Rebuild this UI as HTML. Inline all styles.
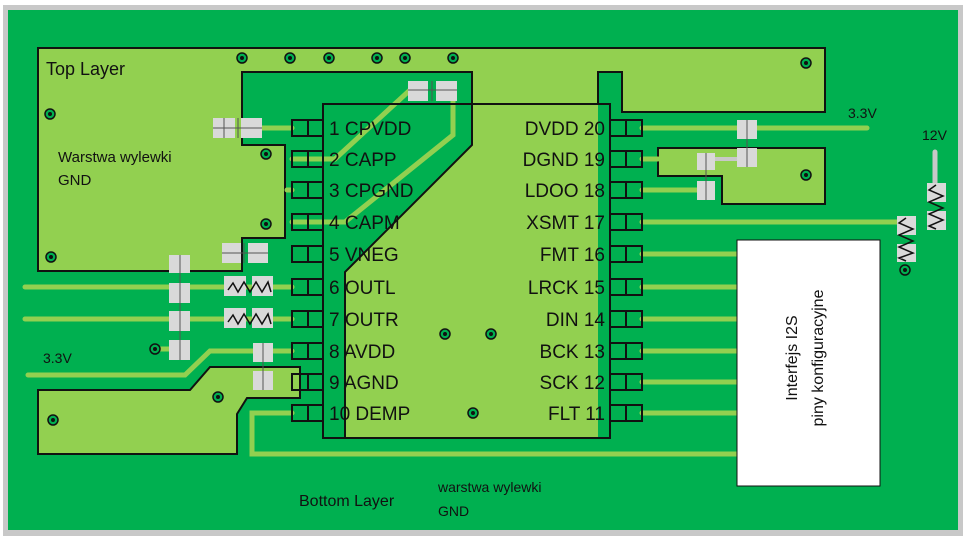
<!DOCTYPE html>
<html><head><meta charset="utf-8"><style>
html,body{margin:0;padding:0;background:#fff;}
svg{display:block;}
text{font-family:"Liberation Sans","DejaVu Sans",sans-serif;fill:#111;}
</style></head><body>
<svg width="970" height="544" viewBox="0 0 970 544" xmlns="http://www.w3.org/2000/svg">
<rect x="3" y="5" width="960" height="531" fill="#c8c8c8"/>
<rect x="8" y="10" width="950" height="520" fill="#00b050"/>
<g fill="#92d050" stroke="#111" stroke-width="2">
<path d="M38,48 L825,48 L825,112 L622,112 L622,72 L242,72 L242,145 L285,145 L285,238 L242,238 L242,271 L38,271 Z"/>
<path d="M472,72 L598,72 L598,438 L345,438 L345,272 L472,145 Z" stroke="none"/>
<path d="M658,148 L825,148 L825,204 L722,204 L722,176 L658,176 Z"/>
<path d="M38,390 L190,390 L210,367 L300,367 L300,398 L247,398 L237,414 L237,454 L38,454 Z"/>
</g>
<rect x="473" y="70" width="124" height="30" fill="#92d050"/>
<path d="M472,72 L472,145 L345,272 L345,438" fill="none" stroke="#111" stroke-width="2"/>
<path d="M598,104 L598,72 L622,72" fill="none" stroke="#111" stroke-width="2"/>
<!-- traces -->
<g stroke="#92d050" stroke-width="5" fill="none" stroke-linecap="round">
<path d="M262,128 L292,128"/>
<path d="M292,159 L335,159 L410,90 L420,90"/>
<path d="M292,222 L345,222 L453,135 L453,92"/>
<path d="M287,190 L292,190"/>
<path d="M25,287 L292,287"/>
<path d="M25,319 L292,319"/>
<path d="M28,375 L185,375 L210,351 L292,351"/>
<path d="M160,349 L175,349"/>
<path d="M292,413 L252,413 L252,454 L737,454"/>
<path d="M642,128 L867,128"/>
<path d="M642,159 L658,159"/>
<path d="M642,190 L700,190"/>
<path d="M642,222 L905,222"/>
<path d="M642,254 L737,254 M642,287 L737,287 M642,319 L737,319 M642,351 L737,351 M642,382 L737,382 M642,413 L737,413"/>
</g>
<path d="M935,152 L935,190" stroke="#c8c8c8" stroke-width="5" stroke-linecap="round"/>
<path d="M715,159 L740,159" stroke="#c8c8c8" stroke-width="4"/>
<!-- chip -->
<rect x="323" y="104" width="287" height="334" fill="none" stroke="#111" stroke-width="2"/>
<g fill="none" stroke="#111" stroke-width="2">
<g id="lp">
<rect x="292" y="120" width="31" height="16"/><line x1="308" y1="120" x2="308" y2="136"/>
</g>
<use href="#lp" y="31"/><use href="#lp" y="62"/><use href="#lp" y="94"/><use href="#lp" y="126"/>
<use href="#lp" y="159"/><use href="#lp" y="191"/><use href="#lp" y="223"/><use href="#lp" y="254"/><use href="#lp" y="285"/>
<g id="rp"><rect x="610" y="120" width="32" height="16"/><line x1="626" y1="120" x2="626" y2="136"/></g>
<use href="#rp" y="31"/><use href="#rp" y="62"/><use href="#rp" y="94"/><use href="#rp" y="126"/>
<use href="#rp" y="159"/><use href="#rp" y="191"/><use href="#rp" y="223"/><use href="#rp" y="254"/><use href="#rp" y="285"/>
</g>
<g font-size="19">
<text x="329" y="135">1 CPVDD</text><text x="329" y="166">2 CAPP</text><text x="329" y="197">3 CPGND</text>
<text x="329" y="229">4 CAPM</text><text x="329" y="261">5 VNEG</text><text x="329" y="294">6 OUTL</text>
<text x="329" y="326">7 OUTR</text><text x="329" y="358">8 AVDD</text><text x="329" y="389">9 AGND</text>
<text x="329" y="420">10 DEMP</text>
</g>
<g font-size="19" text-anchor="end">
<text x="605" y="135">DVDD 20</text><text x="605" y="166">DGND 19</text><text x="605" y="197">LDOO 18</text>
<text x="605" y="229">XSMT 17</text><text x="605" y="261">FMT 16</text><text x="605" y="294">LRCK 15</text>
<text x="605" y="326">DIN 14</text><text x="605" y="358">BCK 13</text><text x="605" y="389">SCK 12</text>
<text x="605" y="420">FLT 11</text>
</g>
<!-- pads -->
<g fill="#d9d9d9">
<rect x="213" y="118" width="22" height="20"/><rect x="241" y="118" width="21" height="20"/>
<rect x="408" y="81" width="20" height="20"/><rect x="436" y="81" width="21" height="20"/>
<rect x="222" y="243" width="19" height="20"/><rect x="248" y="243" width="20" height="20"/>
<rect x="169" y="255" width="21" height="18"/><rect x="169" y="283" width="21" height="20"/>
<rect x="169" y="311" width="21" height="20"/><rect x="169" y="340" width="21" height="20"/>
<rect x="224" y="276" width="22" height="20"/><rect x="252" y="276" width="21" height="20"/>
<rect x="224" y="308" width="22" height="20"/><rect x="252" y="308" width="21" height="20"/>
<rect x="253" y="343" width="20" height="19"/><rect x="253" y="371" width="20" height="19"/>
<rect x="737" y="120" width="20" height="19"/><rect x="737" y="148" width="20" height="19"/>
<rect x="697" y="153" width="18" height="17"/><rect x="697" y="181" width="18" height="19"/>
<rect x="927" y="183" width="19" height="19"/><rect x="927" y="211" width="19" height="19"/>
<rect x="897" y="216" width="19" height="19"/><rect x="897" y="244" width="19" height="18"/>
</g>
<g stroke="#555" stroke-width="1">
<line x1="224" y1="118" x2="224" y2="138"/><line x1="238" y1="118" x2="238" y2="138"/><line x1="213" y1="128" x2="262" y2="128"/>
<line x1="432" y1="81" x2="432" y2="101"/><line x1="408" y1="90" x2="457" y2="90"/>
<line x1="222" y1="253" x2="268" y2="253"/><line x1="244" y1="243" x2="244" y2="263"/>
<line x1="180" y1="255" x2="180" y2="360"/>
<line x1="263" y1="343" x2="263" y2="390"/>
<line x1="747" y1="120" x2="747" y2="167"/><line x1="706" y1="153" x2="706" y2="200"/>
</g>
<g fill="none" stroke="#111" stroke-width="1.5">
<path d="M228,290 L233,283 L238,292 L244,282 L250,292 L256,282 L262,292 L268,282 L271,292"/>
<path d="M228,322 L233,315 L238,324 L244,314 L250,324 L256,314 L262,324 L268,314 L271,324"/>
<path d="M936,185 L929,190 L943,196 L929,202 L943,208 L929,214 L943,220 L929,226 L936,229"/>
<path d="M906,218 L899,223 L913,229 L899,235 L913,241 L899,247 L913,253 L899,258 L906,261"/>
</g>
<!-- vias -->
<g fill="#00b050" stroke="#111" stroke-width="1.5">
<circle cx="242" cy="58" r="5"/><circle cx="290" cy="58" r="5"/><circle cx="329" cy="58" r="5"/>
<circle cx="377" cy="58" r="5"/><circle cx="405" cy="58" r="5"/><circle cx="453" cy="58" r="5"/>
<circle cx="806" cy="63" r="5"/><circle cx="50" cy="114" r="5"/><circle cx="266" cy="154" r="5"/>
<circle cx="266" cy="224" r="5"/><circle cx="51" cy="257" r="5"/><circle cx="806" cy="175" r="5"/>
<circle cx="155" cy="349" r="5"/><circle cx="218" cy="397" r="5"/><circle cx="53" cy="420" r="5"/>
<circle cx="445" cy="334" r="5"/><circle cx="491" cy="334" r="5"/><circle cx="473" cy="413" r="5"/>
<circle cx="905" cy="270" r="5"/>
</g>
<g fill="#111">
<circle cx="242" cy="58" r="2"/><circle cx="290" cy="58" r="2"/><circle cx="329" cy="58" r="2"/>
<circle cx="377" cy="58" r="2"/><circle cx="405" cy="58" r="2"/><circle cx="453" cy="58" r="2"/>
<circle cx="806" cy="63" r="2"/><circle cx="50" cy="114" r="2"/><circle cx="266" cy="154" r="2"/>
<circle cx="266" cy="224" r="2"/><circle cx="51" cy="257" r="2"/><circle cx="806" cy="175" r="2"/>
<circle cx="155" cy="349" r="2"/><circle cx="218" cy="397" r="2"/><circle cx="53" cy="420" r="2"/>
<circle cx="445" cy="334" r="2"/><circle cx="491" cy="334" r="2"/><circle cx="473" cy="413" r="2"/>
<circle cx="905" cy="270" r="2"/>
</g>
<!-- white box -->
<rect x="737" y="240" width="143" height="246" fill="#fff" stroke="#111" stroke-width="1"/>
<g font-size="16" text-anchor="middle">
<text transform="translate(797,358) rotate(-90)">Interfejs I2S</text>
<text transform="translate(823,358) rotate(-90)">piny konfiguracyjne</text>
</g>
<text x="46" y="75" font-size="18">Top Layer</text>
<text x="58" y="162" font-size="15">Warstwa wylewki</text>
<text x="58" y="185" font-size="15">GND</text>
<text x="43" y="363" font-size="14">3.3V</text>
<text x="848" y="118" font-size="14">3.3V</text>
<text x="922" y="140" font-size="14">12V</text>
<text x="299" y="506" font-size="16">Bottom Layer</text>
<text x="438" y="492" font-size="14">warstwa wylewki</text>
<text x="438" y="516" font-size="14">GND</text>
</svg>
</body></html>
